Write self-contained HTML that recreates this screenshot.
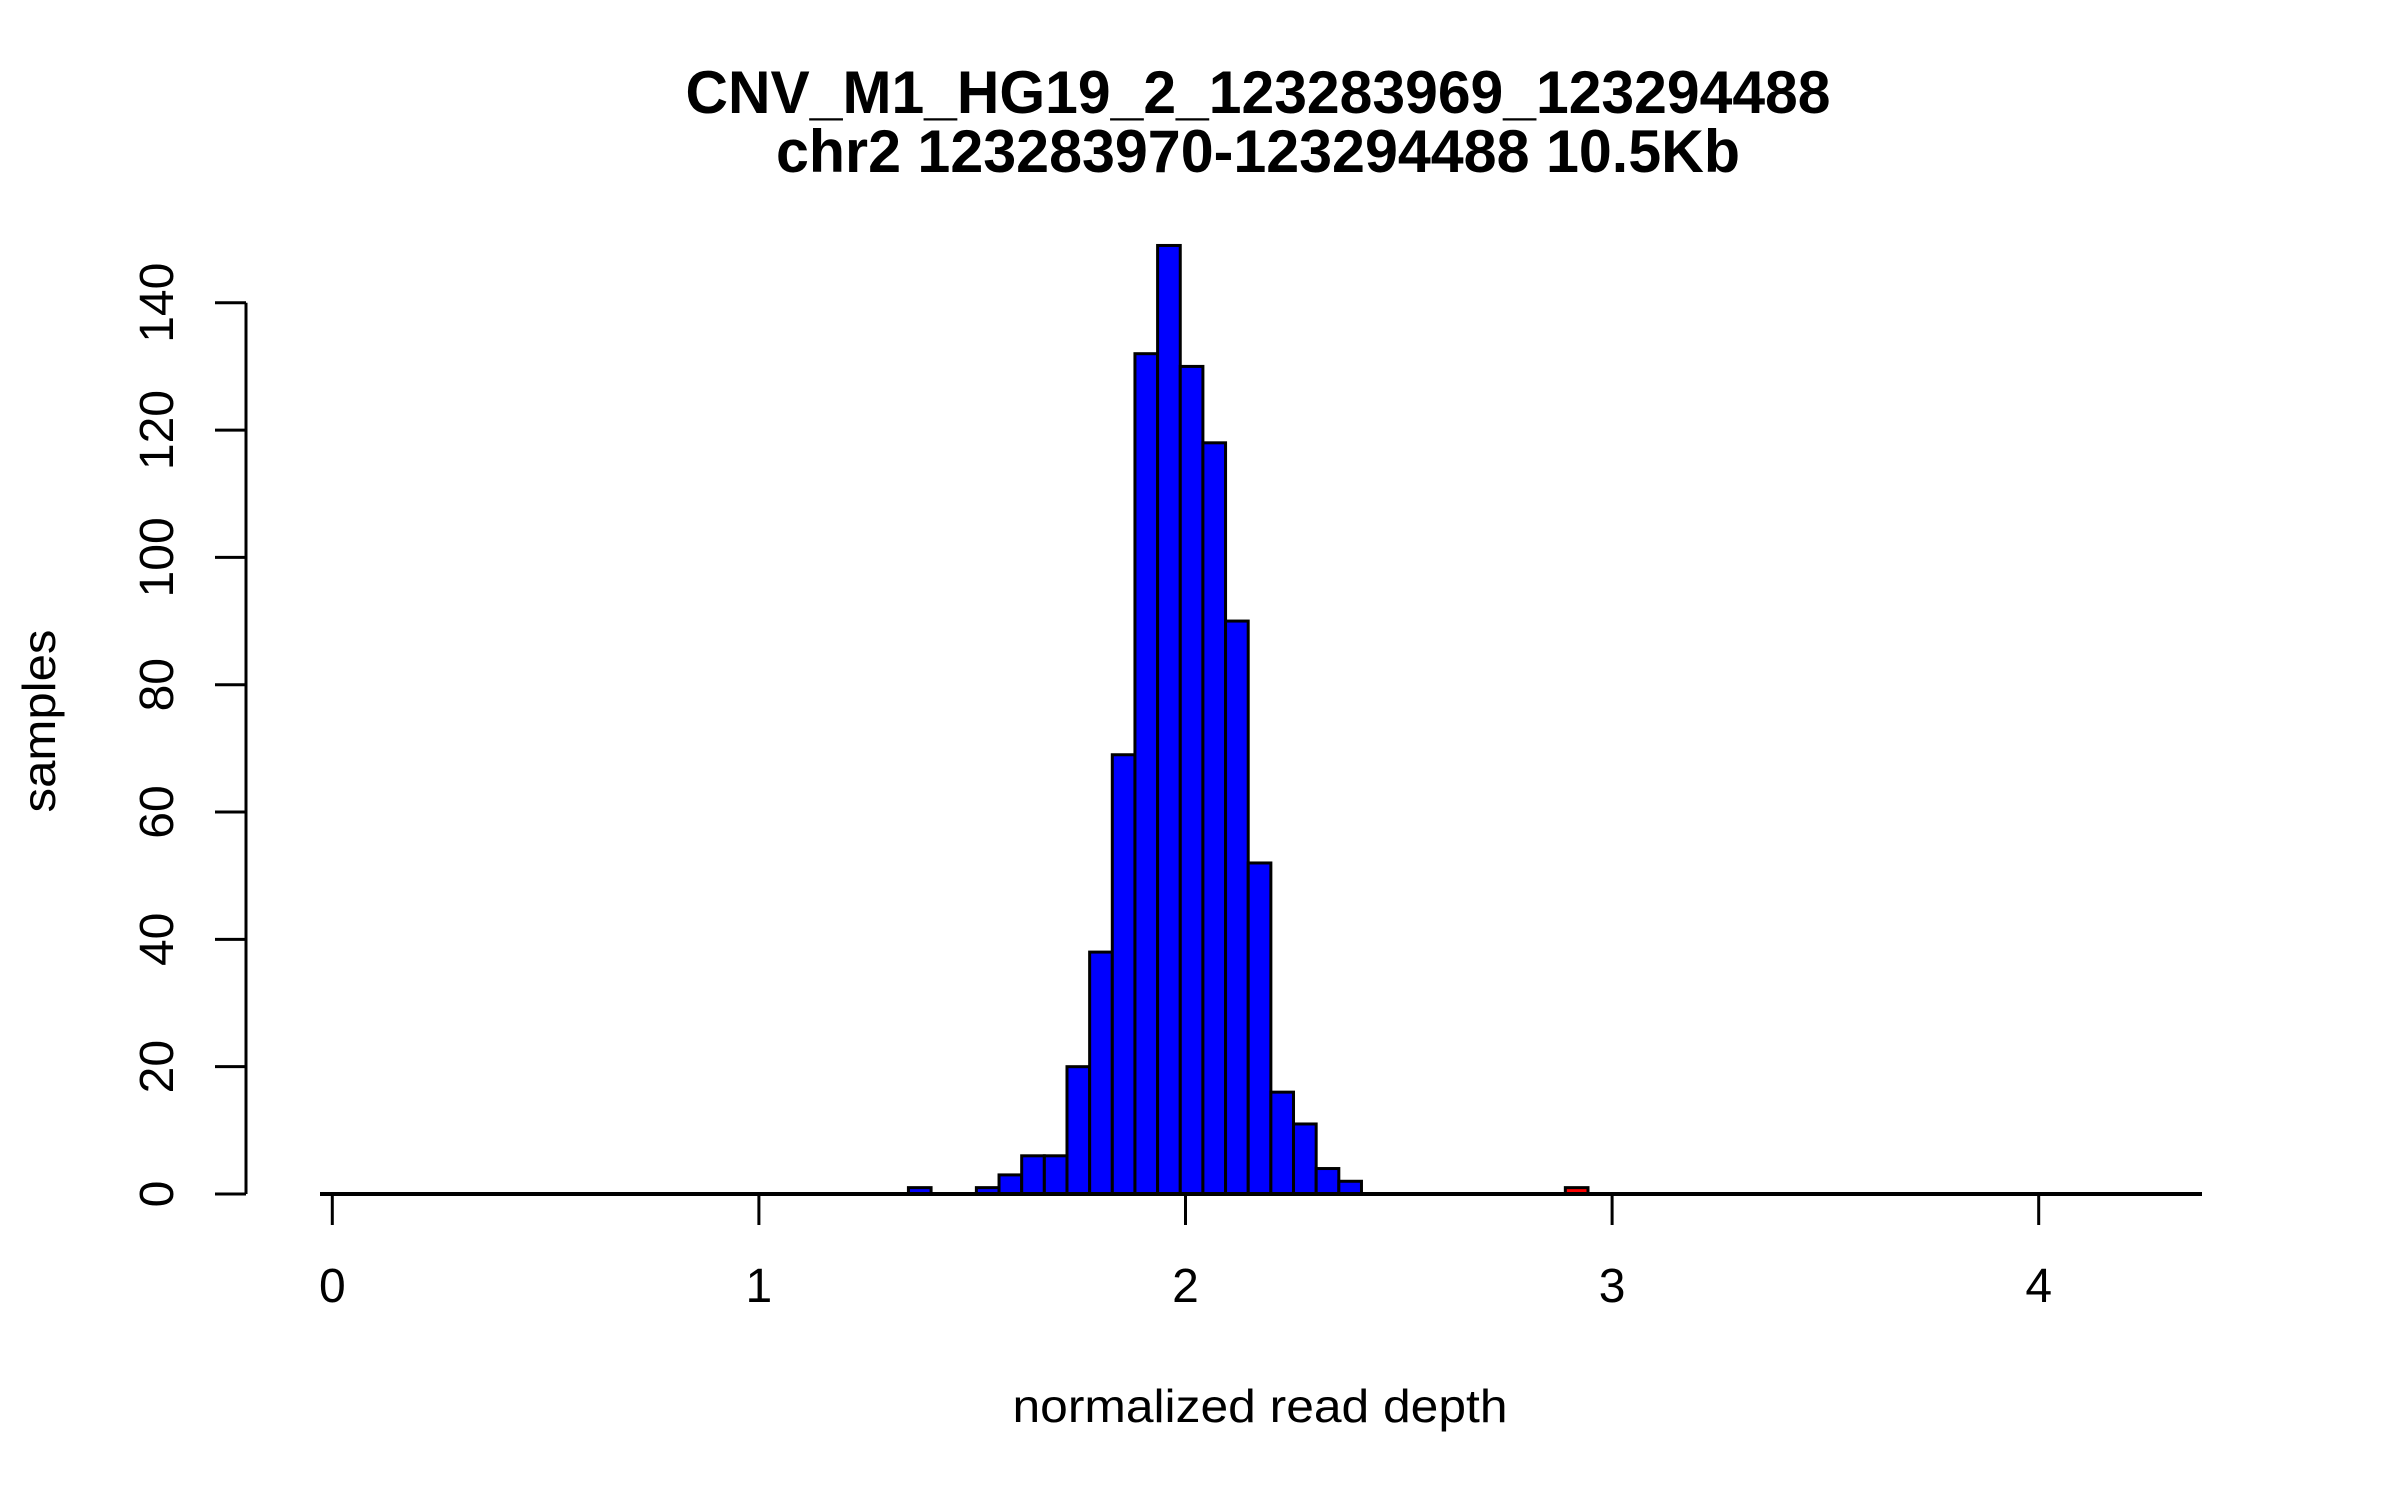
<!DOCTYPE html>
<html><head><meta charset="utf-8"><style>
html,body{margin:0;padding:0;background:#fff}
svg{display:block}
text{font-family:"Liberation Sans",Arial,sans-serif;fill:#000}
</style></head><body>
<svg id="chart" width="2400" height="1500" viewBox="0 0 2400 1500" xmlns="http://www.w3.org/2000/svg">
<rect width="2400" height="1500" fill="#fff"/>
<text x="1258" y="113" font-size="60" font-weight="bold" text-anchor="middle" textLength="1145" lengthAdjust="spacingAndGlyphs">CNV_M1_HG19_2_123283969_123294488</text>
<text x="1258" y="172" font-size="60" font-weight="bold" text-anchor="middle" textLength="964" lengthAdjust="spacingAndGlyphs">chr2 123283970-123294488 10.5Kb</text>
<text x="1260" y="1422" font-size="46" text-anchor="middle" textLength="495" lengthAdjust="spacingAndGlyphs">normalized read depth</text>
<text transform="translate(55,721) rotate(-90)" font-size="46" text-anchor="middle" textLength="183" lengthAdjust="spacingAndGlyphs">samples</text>
<g id="bars"></g>
<g id="axes"></g>
</svg>
<script>
const binStart = 1.3505;
const binWidth = 0.0531;
const counts = [1,0,0,1,3,6,6,20,38,69,132,149,130,118,90,52,16,11,4,2];
const redBinIndex = [29];
const redCounts = [1];
const xTicks = [0,1,2,3,4];
const yTicks = [0,20,40,60,80,100,120,140];

const NS = "http://www.w3.org/2000/svg";
function X(v){ return 332.3 + v*426.6; }
function Y(v){ return 1194 - v*6.366; }
const bars = document.getElementById('bars');
const axes = document.getElementById('axes');
function mk(tag, attrs, parent){
  const e = document.createElementNS(NS, tag);
  for (const k in attrs) e.setAttribute(k, attrs[k]);
  parent.appendChild(e);
  return e;
}
const base = mk('line', {x1:320, x2:2202, y1:Y(0), y2:Y(0), stroke:'#000', 'stroke-width':4}, axes);



counts.forEach((c, i) => {
  if (c <= 0) return;
  const x0 = X(binStart + i*binWidth), x1 = X(binStart + (i+1)*binWidth);
  const r = mk('rect', {x:x0, y:Y(c), width:x1-x0, height:Y(0)-Y(c), fill:'#0000ff', stroke:'#000', 'stroke-width':3}, bars);
  
  
});
redBinIndex.forEach((bi, j) => {
  const c = redCounts[j];
  const x0 = X(binStart + bi*binWidth), x1 = X(binStart + (bi+1)*binWidth);
  const r = mk('rect', {x:x0, y:Y(c), width:x1-x0, height:Y(0)-Y(c), fill:'#ff0000', stroke:'#000', 'stroke-width':3}, bars);
  
  
});
xTicks.forEach(t => {
  const l = mk('line', {x1:X(t), x2:X(t), y1:Y(0), y2:1225, stroke:'#000', 'stroke-width':3}, axes);
  
  
  const tx = mk('text', {x:X(t), y:1302, 'font-size':48, 'text-anchor':'middle'}, axes);
  tx.textContent = t;
  
  
});
const ya = mk('line', {x1:246, x2:246, y1:Y(140), y2:Y(0), stroke:'#000', 'stroke-width':3}, axes);


yTicks.forEach(t => {
  const l = mk('line', {x1:215, x2:246, y1:Y(t), y2:Y(t), stroke:'#000', 'stroke-width':3}, axes);
  
  
  const tx = mk('text', {transform:'translate(173,' + Y(t) + ') rotate(-90)', 'font-size':48, 'text-anchor':'middle'}, axes);
  tx.textContent = t;
  
  
});
</script>
</body></html>
